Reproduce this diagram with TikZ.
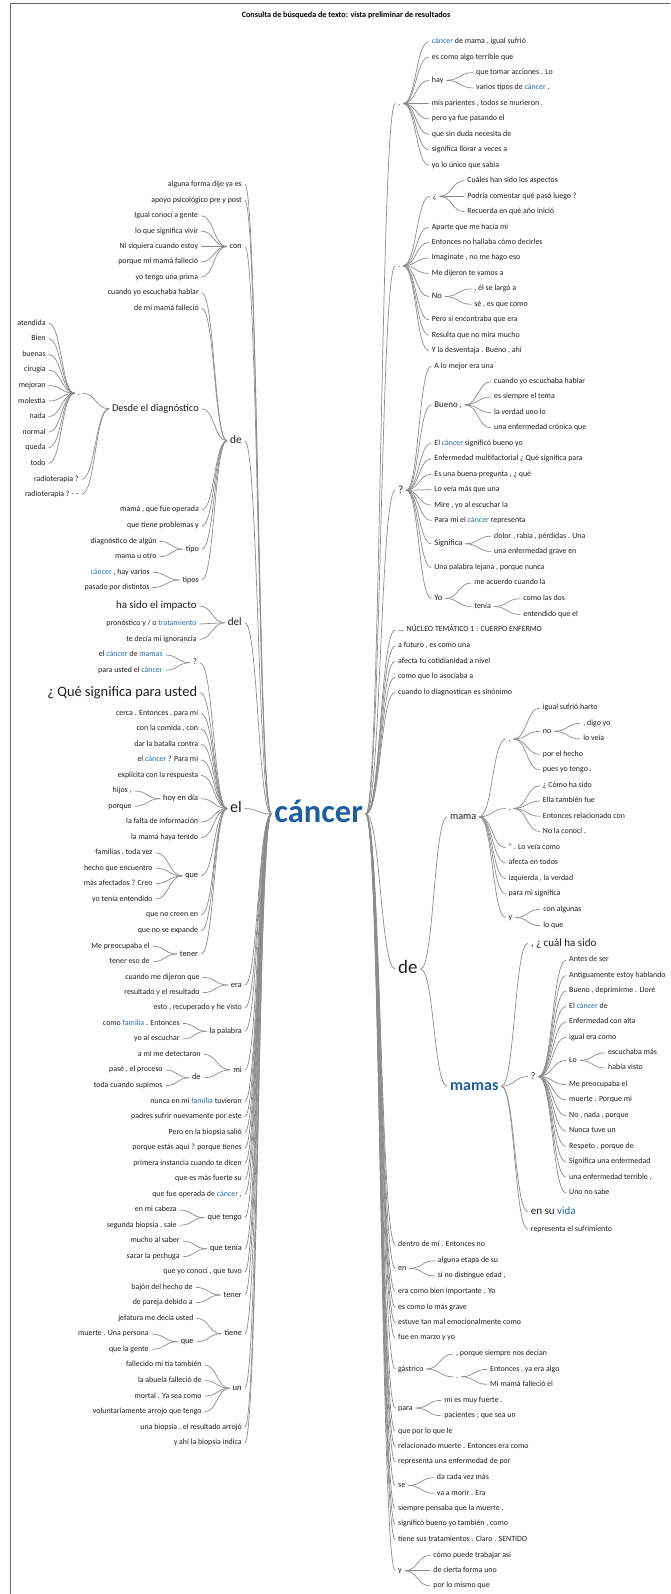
\documentclass[tikz,border=0pt]{standalone}
\usepackage{fontspec}
\setmainfont{Carlito}
\usetikzlibrary{calc}
\definecolor{txt}{RGB}{30,30,30}
\definecolor{lnk}{RGB}{140,140,140}
\definecolor{hlblue}{RGB}{38,108,172}
\definecolor{rootblue}{RGB}{30,94,156}
\definecolor{framegray}{RGB}{100,100,100}
\newcommand\hl[1]{\textcolor{hlblue}{#1}}
\tikzset{
  wt/.style={font=\fontsize{#1}{#1}\selectfont, text height=0.72*#1, text depth=0.22*#1, inner sep=1.2pt, text=txt},
  wl/.style={wt=#1, anchor=east}, wl/.default=7.9,
  wr/.style={wt=#1, anchor=west}, wr/.default=7.9,
  lk/.style={draw=lnk, line width=0.7pt, shorten <=1.6pt, shorten >=1.6pt,
    to path={let \p1=(\tikztostart), \p2=(\tikztotarget), \n1={0.5*(\x1+\x2)} in
      .. controls (\n1,\y1) and (\n1,\y2) .. (\tikztotarget)}},
}
% children on the left: from each child's east side to the parent's west side
\newcommand\kidsL[2]{\foreach \kid in {#2}{\draw[lk] (\kid.east) to (#1.west);}}
% children on the right: from the parent's east side to each child's west side
\newcommand\kidsR[2]{\foreach \kid in {#2}{\draw[lk] (#1.east) to (\kid.west);}}
\begin{document}
\begin{tikzpicture}[x=1pt,y=-1pt]
\useasboundingbox (0,0) rectangle (670,1594);
\draw[draw=framegray, line width=1pt] (10.7,1594) -- (10.7,4) -- (670,4);
\node[font=\fontsize{8.1}{8.1}\selectfont\bfseries, text=black] (title) at (346,15.7)
  {Consulta de búsqueda de texto: vista preliminar de resultados};

% ---------- root ----------
\node[wt=32.5, font=\fontsize{32.5}{32.5}\selectfont\bfseries, text=rootblue, anchor=west] (root) at (273,814) {cáncer};

% ---------- left branch ----------
\node[wl] (lA) at (243.2,184.3) {alguna forma dije ya es};
\node[wl] (lB) at (243.2,200.3) {apoyo psicológico pre y post};
\node[wl=8.3] (lcon) at (243.2,246.5) {con};
\node[wl=11.5] (lde) at (243.2,440.8) {de};
\node[wl=11.2] (ldel) at (243.2,622.7) {del};
\node[wl=16] (lel) at (243.2,808.5) {el};
\node[wl=8.3] (lera) at (243.2,985) {era};
\node[wl] (lesto) at (243.2,1008) {esto , recuperado y he visto};
\node[wl=8.1] (lpal) at (243.2,1031.2) {la palabra};
\node[wl=8.3] (lmi) at (243.2,1070) {mi};
\node[wl] (lnun) at (243.2,1101.3) {nunca en mi \hl{familia} tuvieron};
\node[wl] (lpad) at (243.2,1116.7) {padres sufrir nuevamente por este};
\node[wl] (lper) at (243.2,1132.3) {Pero en la biopsia salió};
\node[wl] (lpor) at (243.2,1148) {porque estás aquí ? porque tienes};
\node[wl] (lpri) at (243.2,1163.3) {primera instancia cuando te dicen};
\node[wl] (lqes) at (243.2,1179) {que es más fuerte su};
\node[wl] (lqfu) at (243.2,1194.3) {que fue operada de \hl{cáncer} ,};
\node[wl=8.3] (lqtg) at (243.2,1217.7) {que tengo};
\node[wl=8.3] (lqti) at (243.2,1248.8) {que tenía};
\node[wl] (lqyo) at (243.2,1272) {que yo conocí , que tuvo};
\node[wl=8.3] (lten) at (243.2,1295) {tener};
\node[wl=8.3] (ltie) at (243.2,1333.8) {tiene};
\node[wl=8.8] (lun) at (243.2,1388.3) {un};
\node[wl] (luna) at (243.2,1427.3) {una biopsia , el resultado arrojó};
\node[wl] (lyah) at (243.2,1443) {y ahí la biopsia indica};
\kidsL{root}{lA,lB,lcon,lde,ldel,lel,lera,lesto,lpal,lmi,lnun,lpad,lper,lpor,lpri,lqes,lqfu,lqtg,lqti,lqyo,lten,ltie,lun,luna,lyah}

% con
\node[wl] (c1) at (199.5,215.7) {Igual conocí a gente};
\node[wl] (c2) at (199.5,231.1) {lo que significa vivir};
\node[wl] (c3) at (199.5,246.5) {Ni siquiera cuando estoy};
\node[wl] (c4) at (199.5,262) {porque mi mamá falleció};
\node[wl] (c5) at (199.5,277.3) {yo tengo una prima};
\kidsL{lcon}{c1,c2,c3,c4,c5}

% de
\node[wl] (d1) at (200.2,293) {cuando yo escuchaba hablar};
\node[wl] (d2) at (200.2,308.3) {de mi mamá falleció};
\node[wl=10.4] (ddesde) at (200.2,408.8) {Desde el diagnóstico};
\node[wl] (d3) at (200.2,510) {mamá , que fue operada};
\node[wl] (d4) at (200.2,526) {que tiene problemas y};
\node[wl=8.1] (dtipo) at (200.2,549.1) {tipo};
\node[wl=8.1] (dtipos) at (200.2,580) {tipos};
\kidsL{lde}{d1,d2,ddesde,d3,d4,dtipo,dtipos}

\node[wl=8] (ddot) at (81,393.3) {.};
\node[wl] (dr1) at (80,479.3) {radioterapia ?};
\node[wl] (dr2) at (80,494.3) {radioterapia ? - -};
\kidsL{ddesde}{ddot,dr1,dr2}

\node[wl] (p1) at (47,323.3) {atendida};
\node[wl] (p2) at (47,338.9) {Bien};
\node[wl] (p3) at (47,354.4) {buenas};
\node[wl] (p4) at (47,370) {cirugía};
\node[wl] (p5) at (47,385.5) {mejoran};
\node[wl] (p6) at (47,401.1) {molestia};
\node[wl] (p7) at (47,416.6) {nada};
\node[wl] (p8) at (47,432.2) {normal};
\node[wl] (p9) at (47,447.7) {queda};
\node[wl] (p10) at (47,463.3) {todo};
\kidsL{ddot}{p1,p2,p3,p4,p5,p6,p7,p8,p9,p10}

\node[wl] (t1) at (158,541.4) {diagnóstico de algún};
\node[wl] (t2) at (158,556.8) {mama u otro};
\kidsL{dtipo}{t1,t2}
\node[wl] (t3) at (151,572.2) {\hl{cáncer} , hay varios};
\node[wl] (t4) at (151,587.6) {pasado por distintos};
\kidsL{dtipos}{t3,t4}

% del
\node[wl=10.9] (dl1) at (198,606) {ha sido el impacto};
\node[wl] (dl2) at (198,624) {pronóstico y / o \hl{tratamiento}};
\node[wl] (dl3) at (198,639.3) {te decía mi ignorancia};
\kidsL{ldel}{dl1,dl2,dl3}

% el
\node[wl=8.5] (eq) at (198.5,662.7) {?};
\node[wl=14.4] (eQue) at (198.5,692.7) {¿ Qué significa para usted};
\node[wl] (e1) at (199.5,713.7) {cerca . Entonces , para mí};
\node[wl] (e2) at (199.5,729) {con la comida , con};
\node[wl] (e3) at (199.5,744.3) {dar la batalla contra};
\node[wl] (e4) at (199.5,760) {el \hl{cáncer} ? Para mi};
\node[wl] (e5) at (199.5,775.3) {explícita con la respuesta};
\node[wl=8.3] (ehoy) at (199.5,798.7) {hoy en día};
\node[wl] (e6) at (199.5,822) {la falta de información};
\node[wl] (e7) at (199.5,837.7) {la mamá haya tenido};
\node[wl=8.3] (eque) at (199.5,875.8) {que};
\node[wl] (e8) at (199.5,915) {que no creen en};
\node[wl] (e9) at (199.5,930.7) {que no se expande};
\node[wl=8.3] (eten) at (199.5,954) {tener};
\kidsL{lel}{eq,eQue,e1,e2,e3,e4,e5,ehoy,e6,e7,eque,e8,e9,eten}

\node[wl] (eq1) at (164,655) {el \hl{cáncer} de \hl{mamas}};
\node[wl] (eq2) at (164,670.3) {para usted el \hl{cáncer}};
\kidsL{eq}{eq1,eq2}
\node[wl] (h1) at (133,791) {hijos ,};
\node[wl] (h2) at (133,806.3) {porque};
\kidsL{ehoy}{h1,h2}
\node[wl] (q1) at (154,852.6) {familias , toda vez};
\node[wl] (q2) at (154,868.1) {hecho que encuentro};
\node[wl] (q3) at (154,883.7) {más afectados ? Creo};
\node[wl] (q4) at (154,899.2) {yo tenía entendido};
\kidsL{eque}{q1,q2,q3,q4}
\node[wl] (tn1) at (151,946.2) {Me preocupaba el};
\node[wl] (tn2) at (151,961.8) {tener eso de};
\kidsL{eten}{tn1,tn2}

% era, la palabra, mi
\node[wl] (er1) at (201,977.3) {cuando me dijeron que};
\node[wl] (er2) at (201,992.7) {resultado y el resultado};
\kidsL{lera}{er1,er2}
\node[wl] (pa1) at (181,1023.3) {como \hl{familia} . Entonces};
\node[wl] (pa2) at (181,1039) {yo al escuchar};
\kidsL{lpal}{pa1,pa2}
\node[wl] (mi1) at (202,1054.3) {a mi me detectaron};
\node[wl=8.3] (mde) at (202,1077.8) {de};
\kidsL{lmi}{mi1,mde}
\node[wl] (md1) at (164,1070) {pasé , el proceso};
\node[wl] (md2) at (164,1085.7) {toda cuando supimos};
\kidsL{mde}{md1,md2}

% que tengo, que tenía, tener, tiene, un
\node[wl] (qt1) at (178,1210) {en mi cabeza};
\node[wl] (qt2) at (178,1225.3) {segunda biopsia , sale};
\kidsL{lqtg}{qt1,qt2}
\node[wl] (qa1) at (181,1241) {mucho al saber};
\node[wl] (qa2) at (181,1256.7) {sacar la pechuga};
\kidsL{lqti}{qa1,qa2}
\node[wl] (te1) at (194,1287.3) {bajón del hecho de};
\node[wl] (te2) at (194,1302.7) {de pareja debido a};
\kidsL{lten}{te1,te2}
\node[wl] (ti1) at (195,1318.3) {jefatura me decía usted};
\node[wl=8.3] (tq) at (195,1341.7) {que};
\kidsL{ltie}{ti1,tq}
\node[wl] (tq1) at (150,1334) {muerte . Una persona};
\node[wl] (tq2) at (150,1349.3) {que la gente};
\kidsL{tq}{tq1,tq2}
\node[wl] (u1) at (203,1365) {fallecido mi tía también};
\node[wl] (u2) at (203,1380.6) {la abuela falleció de};
\node[wl] (u3) at (203,1396.1) {mortal . Ya sea como};
\node[wl] (u4) at (203,1411.7) {voluntariamente arrojo que tengo};
\kidsL{lun}{u1,u2,u3,u4}

% ---------- right branch ----------
\node[wr=8] (rc1) at (396.8,103.5) {,};
\node[wr=8] (rc2) at (396.8,265.7) {.};
\node[wr=11] (rc3) at (396.8,490.3) {?};
\node[wr] (rN) at (396.8,630) {... NÚCLEO TEMÁTICO 1 : CUERPO ENFERMO};
\node[wr] (rF) at (396.8,646) {a futuro , es como una};
\node[wr] (rAf) at (396.8,661.3) {afecta tu cotidianidad a nivel};
\node[wr] (rCo) at (396.8,677) {como que lo asociaba a};
\node[wr] (rCu) at (396.8,692.3) {cuando lo diagnostican es sinónimo};
\node[wr=19] (rde) at (396.8,969) {de};
\node[wr] (rDe) at (396.8,1244.3) {dentro de mí . Entonces no};
\node[wr=8] (ren) at (396.8,1268.3) {en};
\node[wr] (rEr) at (396.8,1291.7) {era como bien importante . Yo};
\node[wr] (rEs) at (396.8,1307.3) {es como lo más grave};
\node[wr] (rEt) at (396.8,1322.7) {estuve tan mal emocionalmente como};
\node[wr] (rFu) at (396.8,1338) {fue en marzo y yo};
\node[wr=8] (rga) at (396.8,1369) {gástrico};
\node[wr=8] (rpa) at (396.8,1408) {para};
\node[wr] (rQu) at (396.8,1431.3) {que por lo que le};
\node[wr] (rRe) at (396.8,1446.7) {relacionado muerte . Entonces era como};
\node[wr] (rRp) at (396.8,1462) {representa una enfermedad de por};
\node[wr=8] (rse) at (396.8,1485.5) {se};
\node[wr] (rSi) at (396.8,1508.7) {siempre pensaba que la muerte .};
\node[wr] (rSg) at (396.8,1524) {significó bueno yo también , como};
\node[wr] (rTi) at (396.8,1539.7) {tiene sus tratamientos . Claro . SENTIDO};
\node[wr=8] (ry) at (396.8,1570.7) {y};
\kidsR{root}{rc1,rc2,rc3,rN,rF,rAf,rCo,rCu,rde,rDe,ren,rEr,rEs,rEt,rFu,rga,rpa,rQu,rRe,rRp,rse,rSi,rSg,rTi,ry}

% first comma group
\node[wr] (a1) at (430.5,41.7) {\hl{cáncer} de mama , igual sufrió};
\node[wr] (a2) at (430.5,57.1) {es como algo terrible que};
\node[wr=8] (ahay) at (430.5,80.3) {hay};
\node[wr] (a3) at (430.5,103.5) {mis parientes , todos se murieron .};
\node[wr] (a4) at (430.5,118.9) {pero ya fue pasando el};
\node[wr] (a5) at (430.5,134.4) {que sin duda necesita de};
\node[wr] (a6) at (430.5,149.8) {significa llorar a veces a};
\node[wr] (a7) at (430.5,165.3) {yo lo único que sabía};
\kidsR{rc1}{a1,a2,ahay,a3,a4,a5,a6,a7}
\node[wr] (ah1) at (474.8,72.6) {que tomar acciones . Lo};
\node[wr] (ah2) at (474.8,88) {varios tipos de \hl{cáncer} .};
\kidsR{ahay}{ah1,ah2}

% period group
\node[wr=8] (binv) at (431.5,196.2) {¿};
\node[wr] (b1) at (430.5,227.1) {Aparte que me hacía mi};
\node[wr] (b2) at (430.5,242.5) {Entonces no hallaba cómo decirles};
\node[wr] (b3) at (430.5,258) {Imagínate , no me hago eso};
\node[wr] (b4) at (430.5,273.4) {Me dijeron te vamos a};
\node[wr=8.5] (bno) at (430.5,296.6) {No};
\node[wr] (b5) at (430.5,319.8) {Pero si encontraba que era};
\node[wr] (b6) at (430.5,335.2) {Resulta que no mira mucho};
\node[wr] (b7) at (430.5,350.7) {Y la desventaja . Bueno , ahí};
\kidsR{rc2}{binv,b1,b2,b3,b4,bno,b5,b6,b7}
\node[wr] (bi1) at (466,180.7) {Cuáles han sido los aspectos};
\node[wr] (bi2) at (466,196.2) {Podría comentar qué pasó luego ?};
\node[wr] (bi3) at (466,211.6) {Recuerda en qué año inició};
\kidsR{binv}{bi1,bi2,bi3}
\node[wr] (bn1) at (473,288.9) {, él se largó a};
\node[wr] (bn2) at (473,304.3) {sé , es que como};
\kidsR{bno}{bn1,bn2}

% question-mark group
\node[wr] (g1) at (433,366.1) {A lo mejor era una};
\node[wr=8.9] (gbue) at (433,404.8) {Bueno ,};
\node[wr] (g2) at (433,443.4) {El \hl{cáncer} significó bueno yo};
\node[wr] (g3) at (433,458.8) {Enfermedad multifactorial ¿ Qué significa para};
\node[wr] (g4) at (433,474.3) {Es una buena pregunta , ¿ qué};
\node[wr] (g5) at (433,489.7) {Lo veía más que una};
\node[wr] (g6) at (433,505.2) {Mire , yo al escuchar la};
\node[wr] (g7) at (433,520.6) {Para mi el \hl{cáncer} representa};
\node[wr=8.4] (gsig) at (433,543.8) {Significa};
\node[wr] (g8) at (433,567.5) {Una palabra lejana , porque nunca};
\node[wr=8.5] (gyo) at (433,598.5) {Yo};
\kidsR{rc3}{g1,gbue,g2,g3,g4,g5,g6,g7,gsig,g8,gyo}
\node[wr] (gb1) at (492.8,381.6) {cuando yo escuchaba hablar};
\node[wr] (gb2) at (492.8,397) {es siempre el tema};
\node[wr] (gb3) at (492.8,412.5) {la verdad uno lo};
\node[wr] (gb4) at (492.8,427.9) {una enfermedad crónica que};
\kidsR{gbue}{gb1,gb2,gb3,gb4}
\node[wr] (gs1) at (492.8,536.1) {dolor , rabia , pérdidas . Una};
\node[wr] (gs2) at (492.8,551.5) {una enfermedad grave en};
\kidsR{gsig}{gs1,gs2}
\node[wr] (gy1) at (473,583) {me acuerdo cuando la};
\node[wr=8] (gten) at (473,606.5) {tenía};
\kidsR{gyo}{gy1,gten}
\node[wr] (gt1) at (522,598.7) {como las dos};
\node[wr] (gt2) at (522,614.5) {entendido que el};
\kidsR{gten}{gt1,gt2}

% de: mama / mamas
\node[wr=10.2] (mama) at (448.8,816.8) {mama};
\node[wt=16, font=\fontsize{16}{16}\selectfont\bfseries, text=rootblue, anchor=west] (mamas) at (448.8,1086.3) {mamas};
\kidsR{rde}{mama,mamas}

\node[wr=8] (mc1) at (507.3,739) {,};
\node[wr=8] (mc2) at (507.3,808.5) {.};
\node[wr] (m1) at (507.3,847.7) {" . Lo veía como};
\node[wr] (m2) at (507.3,863) {afecta en todos};
\node[wr] (m3) at (507.3,878.7) {izquierda , la verdad};
\node[wr] (m4) at (507.3,894) {para mi significa};
\node[wr=8] (my) at (507.3,917.5) {y};
\kidsR{mama}{mc1,mc2,m1,m2,m3,m4,my}
\node[wr] (mk1) at (541.5,708) {igual sufrió harto};
\node[wr=8] (mno) at (541.5,731.3) {no};
\node[wr] (mk2) at (541.5,754.3) {por el hecho};
\node[wr] (mk3) at (541.5,770) {pues yo tengo .};
\kidsR{mc1}{mk1,mno,mk2,mk3}
\node[wr] (mn1) at (582,723.3) {, digo yo};
\node[wr] (mn2) at (582,739) {lo veía};
\kidsR{mno}{mn1,mn2}
\node[wr] (md3) at (541.5,785.7) {¿ Cómo ha sido};
\node[wr] (md4) at (541.5,801) {Ella también fue};
\node[wr] (md5) at (541.5,816.3) {Entonces relacionado con};
\node[wr] (md6) at (541.5,831.6) {No la conocí ,};
\kidsR{mc2}{md3,md4,md5,md6}
\node[wr] (my1) at (542,909.3) {con algunas};
\node[wr] (my2) at (542,925.7) {lo que};
\kidsR{my}{my1,my2}

\node[wr=11] (s1) at (529.5,943.3) {, ¿ cuál ha sido};
\node[wr=10] (mq) at (529.5,1076.5) {?};
\node[wr=11] (s2) at (529.5,1211.7) {en su \hl{vida}};
\node[wr] (s3) at (529.5,1229.3) {representa el sufrimiento};
\kidsR{mamas}{s1,mq,s2,s3}
\node[wr] (k1) at (567.8,960) {Antes de ser};
\node[wr] (k2) at (567.8,975.5) {Antiguamente estoy hablando};
\node[wr] (k3) at (567.8,991) {Bueno , deprimirme . Lloré};
\node[wr] (k4) at (567.8,1006.5) {El \hl{cáncer} de};
\node[wr] (k5) at (567.8,1022) {Enfermedad con alta};
\node[wr] (k6) at (567.8,1037.4) {igual era como};
\node[wr=8] (klo) at (567.8,1060.4) {Lo};
\node[wr] (k7) at (567.8,1084.7) {Me preocupaba el};
\node[wr] (k8) at (567.8,1100) {muerte . Porque mi};
\node[wr] (k9) at (567.8,1115.6) {No , nada , porque};
\node[wr] (k10) at (567.8,1131) {Nunca tuve un};
\node[wr] (k11) at (567.8,1146.4) {Respeto , porque de};
\node[wr] (k12) at (567.8,1162) {Significa una enfermedad};
\node[wr] (k13) at (567.8,1177.3) {una enfermedad terrible ,};
\node[wr] (k14) at (567.8,1193) {Uno no sabe};
\kidsR{mq}{k1,k2,k3,k4,k5,k6,klo,k7,k8,k9,k10,k11,k12,k13,k14}
\node[wr] (kl1) at (606.8,1052.8) {escuchaba más};
\node[wr] (kl2) at (606.8,1068) {había visto};
\kidsR{klo}{kl1,kl2}

% lower right groups
\node[wr] (en1) at (436.5,1260.7) {alguna etapa de su};
\node[wr] (en2) at (436.5,1276) {si no distingue edad ,};
\kidsR{ren}{en1,en2}
\node[wr] (ga1) at (454.8,1354) {, porque siempre nos decían};
\node[wr=8] (gdot) at (454.8,1376.8) {.};
\kidsR{rga}{ga1,gdot}
\node[wr] (gd1) at (488.8,1369.3) {Entonces , ya era algo};
\node[wr] (gd2) at (488.8,1384.3) {Mi mamá falleció el};
\kidsR{gdot}{gd1,gd2}
\node[wr] (pr1) at (443,1400.3) {mí es muy fuerte .};
\node[wr] (pr2) at (443,1415.7) {pacientes ; que sea un};
\kidsR{rpa}{pr1,pr2}
\node[wr] (se1) at (435.5,1477.7) {da cada vez más};
\node[wr] (se2) at (435.5,1493.3) {va a morir . Era};
\kidsR{rse}{se1,se2}
\node[wr] (y1) at (432,1555.3) {cómo puede trabajar así};
\node[wr] (y2) at (432,1570.7) {de cierta forma uno};
\node[wr] (y3) at (432,1586) {por lo mismo que};
\kidsR{ry}{y1,y2,y3}
\end{tikzpicture}
\end{document}
